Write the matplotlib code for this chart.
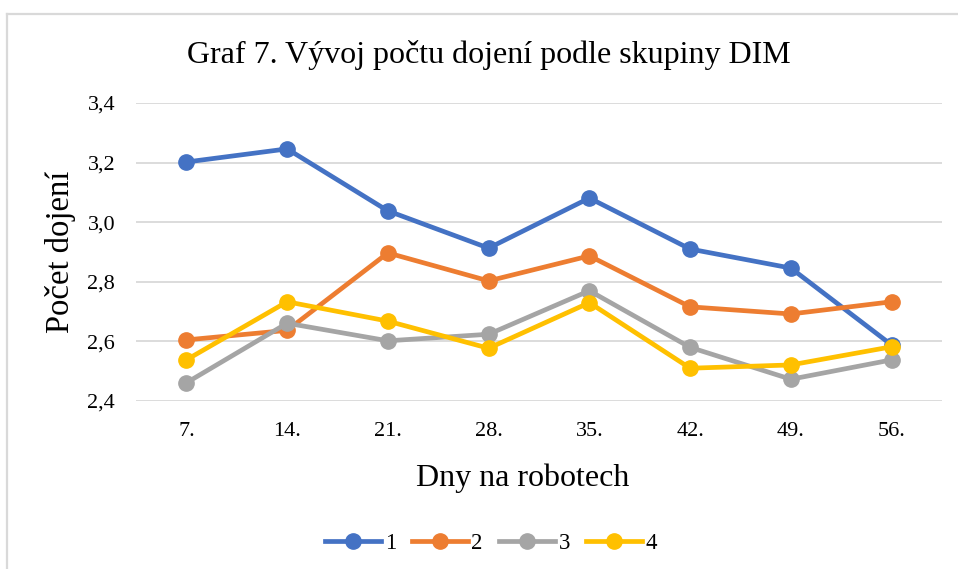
import matplotlib
matplotlib.use("Agg")
import matplotlib.pyplot as plt
from matplotlib.lines import Line2D

plt.rcParams['font.family'] = ['Liberation Serif', 'DejaVu Serif']

days = ['7.', '14.', '21.', '28.', '35.', '42.', '49.', '56.']
group1 = [3.202, 3.246, 3.038, 2.913, 3.081, 2.910, 2.846, 2.588]
group2 = [2.605, 2.637, 2.897, 2.803, 2.887, 2.716, 2.692, 2.733]
group3 = [2.461, 2.661, 2.602, 2.624, 2.770, 2.580, 2.473, 2.538]
group4 = [2.538, 2.733, 2.668, 2.577, 2.730, 2.510, 2.521, 2.582]
series = [('1', group1, '#4472C4'), ('2', group2, '#ED7D31'),
          ('3', group3, '#A5A5A5'), ('4', group4, '#FFC000')]
yticks = [2.4, 2.6, 2.8, 3.0, 3.2, 3.4]

W, H = 958, 569
fig = plt.figure(figsize=(W / 100, H / 100), dpi=100)

# outer chart frame (only top and left are visible)
fig.add_artist(Line2D([6.5 / W, 6.5 / W], [0, 1 - 13.5 / H], color='#D9D9D9', lw=1.6))
fig.add_artist(Line2D([6.5 / W, 1], [1 - 13.5 / H, 1 - 13.5 / H], color='#D9D9D9', lw=1.6))

ax = fig.add_axes([136 / W, (H - 401) / H, (942 - 136) / W, 298 / H])
x = list(range(len(days)))
for name, vals, clr in series:
    ax.plot(x, vals, color=clr, lw=3.4, marker='o', ms=11, label=name,
            solid_joinstyle='round', zorder=3)

ax.set_ylim(2.4, 3.4)
ax.set_xlim(-0.5, len(days) - 0.5)
ax.set_yticks(yticks)
ax.set_yticklabels([f'{v:.1f}'.replace('.', ',') for v in yticks])
ax.set_xticks(x)
ax.set_xticklabels(days)
ax.tick_params(length=0, labelsize=16, colors='#000000')
ax.tick_params(axis='y', pad=15)
ax.tick_params(axis='x', pad=15)
ax.grid(axis='y', color='#D9D9D9', lw=1.3)
ax.set_axisbelow(True)
for s in ax.spines.values():
    s.set_visible(False)

fig.text(60 / W, 1 - 252 / H, 'Počet dojení', fontsize=23.5, rotation=90,
         ha='center', va='center')
fig.text(523 / W, 1 - 478 / H, 'Dny na robotech', fontsize=23,
         ha='center', va='center')
fig.text(489 / W, 1 - 55 / H, 'Graf 7. Vývoj počtu dojení podle skupiny DIM',
         fontsize=23, ha='center', va='center')

fig.legend(loc='center', bbox_to_anchor=(491 / W, 1 - 543 / H), ncols=4, frameon=False,
           fontsize=16.5, handlelength=2.45, handletextpad=0.15, columnspacing=0.7)

fig.savefig('out.png', dpi=100)
